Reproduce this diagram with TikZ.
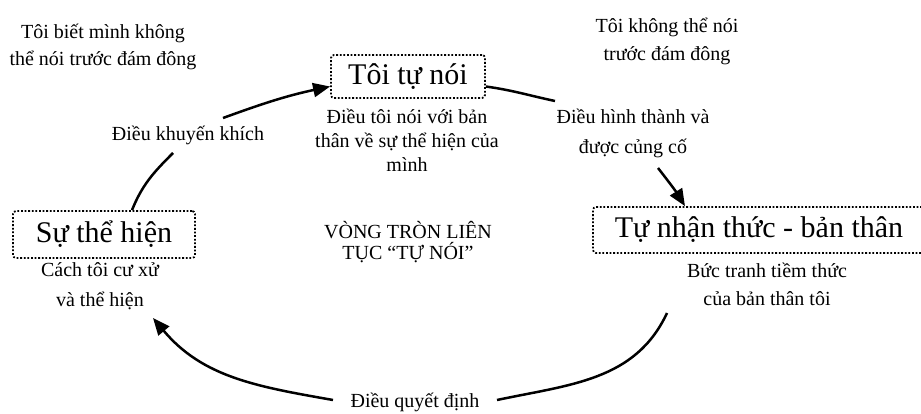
\documentclass[tikz,border=0pt]{standalone}
\usepackage{fontspec}
\setmainfont{Liberation Serif}
\usetikzlibrary{arrows.meta}
\begin{document}
\begin{tikzpicture}[x=1pt,y=-1pt,
  txt/.style={align=center, inner sep=0pt, font=\fontsize{20}{27}\selectfont},
  boxn/.style={draw, line width=1.8pt, dash pattern=on 1.8pt off 1.8pt, rounded corners=3pt, inner sep=0pt, font=\fontsize{30}{36}\selectfont},
  conn/.style={line width=2.5pt},
  arr/.style={line width=2.5pt, -{Triangle[length=17pt,width=14pt]}}
]
\useasboundingbox (0,0) rectangle (921,414);
% boxes
\node[boxn, minimum width=154pt, minimum height=43pt] (tn) at (408,76.5) {Tôi tự nói};
\node[boxn, minimum width=332pt, minimum height=46pt] (tnt) at (759,230) {Tự nhận thức - bản thân};
\node[boxn, minimum width=182pt, minimum height=47pt] (sth) at (104,234.5) {Sự thể hiện};
% texts
\node[txt] (tl) at (103,47) {Tôi biết mình không\\thể nói trước đám đông};
\node[txt, font=\fontsize{20}{28}\selectfont] (tr) at (667,41) {Tôi không thể nói\\trước đám đông};
\node[txt, font=\fontsize{20}{24}\selectfont] (tnd) at (407,140) {Điều tôi nói với bản\\thân về sự thể hiện của\\mình};
\node[txt, font=\fontsize{20}{28}\selectfont] (tntd) at (767,284) {Bức tranh tiềm thức\\của bản thân tôi};
\node[txt, font=\fontsize{20}{30}\selectfont] (sthd) at (100,286) {Cách tôi cư xử\\và thể hiện};
\node[txt, font=\fontsize{20}{21}\selectfont] (ctr) at (408,242.5) {VÒNG TRÒN LIÊN\\TỤC “TỰ NÓI”};
% connector labels
\node[txt] (lk) at (188,135) {Điều khuyến khích};
\node[txt, font=\fontsize{20}{30}\selectfont] (lh) at (633,133) {Điều hình thành và\\được củng cố};
\node[txt] (lq) at (415,402) {Điều quyết định};
% free ends
\coordinate (a1) at (173,153);
\coordinate (a2) at (223,118);
\coordinate (b1) at (555,101);
\coordinate (b2) at (658,168);
\coordinate (c0) at (667,313);
\coordinate (c1) at (497,400);
\coordinate (c2) at (333,400);
\coordinate (c3) at (153,318);
% connectors
\draw[conn] ([xshift=28pt]sth.north) to[out=68,in=-135] (a1);
\draw[arr] (a2) to[out=20,in=192] ([yshift=-10pt]tn.west);
\draw[conn] ([yshift=-10pt]tn.east) to[out=-8,in=168] (b1);
\draw[arr] (b2) to[out=-52,in=122] ([xshift=-74pt]tnt.north);
\draw[conn] (c0) to[out=-115,in=12] (c1);
\draw[arr] (c2) to[out=170,in=-50] (c3);
\end{tikzpicture}
\end{document}
